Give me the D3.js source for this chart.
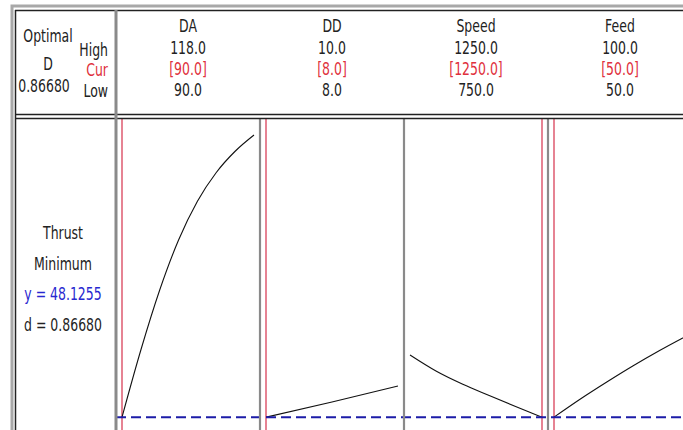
<!DOCTYPE html>
<html>
<head>
<meta charset="utf-8">
<script src="https://cdn.jsdelivr.net/npm/d3@7"></script>
<style>
  body { margin: 0; background: #fff; }
  svg { display: block; }
  text { font-family: "DejaVu Sans", sans-serif; font-size: 16px; }
</style>
</head>
<body>
<script>
// factor settings
var factors = ["DA", "DD", "Speed", "Feed"];
var highVals = [118.0, 10.0, 1250.0, 100.0];
var curVals = [90.0, 8.0, 1250.0, 50.0];
var lowVals = [90.0, 8.0, 750.0, 50.0];

// response
var responseName = "Thrust";
var goal = "Minimum";
var yOpt = 48.1255;
var dOpt = 0.86680;

// predicted thrust along each factor (others held at current setting)
var daX = [90, 94, 98, 102, 106, 110, 114, 118];
var daY = [48.13, 75.0, 99.0, 119.0, 134.5, 146.0, 154.5, 161.0];
var ddX = [8, 9, 10];
var ddY = [48.13, 54.2, 60.6];
var speedX = [750, 850, 950, 1050, 1150, 1250];
var speedY = [73.0, 66.5, 61.3, 56.8, 52.4, 48.13];
var feedX = [50, 60, 70, 80, 90, 100];
var feedY = [48.13, 55.4, 62.2, 68.7, 74.8, 80.5];

var curves = [
  { x: daX, y: daY },
  { x: ddX, y: ddY },
  { x: speedX, y: speedY },
  { x: feedX, y: feedY }
];

var W = 683, H = 430;
var left = 116, panelW = 144, headBottom = 117, pad = 6;

var svg = d3.select("body").append("svg")
    .attr("width", W)
    .attr("height", H);

var panel = d3.scaleBand()
    .domain(factors)
    .range([left, left + panelW * factors.length])
    .padding(0);

var y = d3.scaleLinear()
    .domain([45, 165])
    .range([425, 125]);

// minitab-ish narrow, tall lettering
function label(g, x, yy, str, color, anchor) {
  g.append("text")
    .attr("transform", "translate(" + x + "," + yy + ") scale(0.78,1.12)")
    .attr("text-anchor", anchor || "middle")
    .attr("fill", color || "#222")
    .text(str);
}

// header, left block
var head = svg.append("g");
label(head, 48, 42, "Optimal");
label(head, 48, 70, "D");
label(head, 44, 92, dOpt.toFixed(5));
label(head, 108, 56, "High", "#222", "end");
label(head, 108, 76, "Cur", "#e0303c", "end");
label(head, 108, 97, "Low", "#222", "end");

// header, one column per factor
factors.forEach(function (f, i) {
  var cx = panel(f) + panel.bandwidth() / 2;
  label(head, cx, 32, f);
  label(head, cx, 54, highVals[i].toFixed(1));
  label(head, cx, 75, "[" + curVals[i].toFixed(1) + "]", "#e0303c");
  label(head, cx, 96, lowVals[i].toFixed(1));
});

// response text
label(svg, 63, 239, responseName);
label(svg, 63, 270, goal);
label(svg, 63, 300, "y = " + yOpt.toFixed(4), "#2828d0");
label(svg, 63, 331, "d = " + dOpt.toFixed(5));

// panels
var line = d3.line().curve(d3.curveMonotoneX);

factors.forEach(function (f, i) {
  var x = d3.scaleLinear()
      .domain([lowVals[i], highVals[i]])
      .range([panel(f) + pad, panel(f) + panel.bandwidth() - pad]);

  // current setting
  svg.append("line")
    .attr("x1", x(curVals[i])).attr("x2", x(curVals[i]))
    .attr("y1", headBottom + 2).attr("y2", H)
    .attr("stroke", "#e06478")
    .attr("stroke-width", 1.6);

  var pts = curves[i].x.map(function (v, k) { return [x(v), y(curves[i].y[k])]; });
  svg.append("path")
    .attr("d", line(pts))
    .attr("fill", "none")
    .attr("stroke", "#111")
    .attr("stroke-width", 1.1);
});

// optimal response line
svg.append("line")
  .attr("x1", left).attr("x2", W)
  .attr("y1", y(yOpt)).attr("y2", y(yOpt))
  .attr("stroke", "#1c1ca8")
  .attr("stroke-width", 2)
  .attr("stroke-dasharray", "10,5");

// panel separators
factors.slice(1).forEach(function (f) {
  svg.append("line")
    .attr("x1", panel(f)).attr("x2", panel(f))
    .attr("y1", headBottom + 2).attr("y2", H)
    .attr("stroke", "#8a8a8a")
    .attr("stroke-width", 2.2);
});

// frame
svg.append("rect")
  .attr("x", 12).attr("y", 6).attr("width", W).attr("height", H)
  .attr("fill", "none").attr("stroke", "#a8a8a8").attr("stroke-width", 3);
svg.append("line")
  .attr("x1", 15.5).attr("x2", 15.5).attr("y1", 10).attr("y2", H)
  .attr("stroke", "#222").attr("stroke-width", 1.5);
svg.append("line")
  .attr("x1", 15).attr("x2", W).attr("y1", 10.5).attr("y2", 10.5)
  .attr("stroke", "#222").attr("stroke-width", 1.5);

// header / plot double rule
[114.5, 118.5].forEach(function (yy) {
  svg.append("line")
    .attr("x1", 15).attr("x2", W).attr("y1", yy).attr("y2", yy)
    .attr("stroke", "#222").attr("stroke-width", 1.5);
});

// left column divider
svg.append("line")
  .attr("x1", left).attr("x2", left).attr("y1", 10).attr("y2", H)
  .attr("stroke", "#8a8a8a")
  .attr("stroke-width", 3);
</script>
</body>
</html>
